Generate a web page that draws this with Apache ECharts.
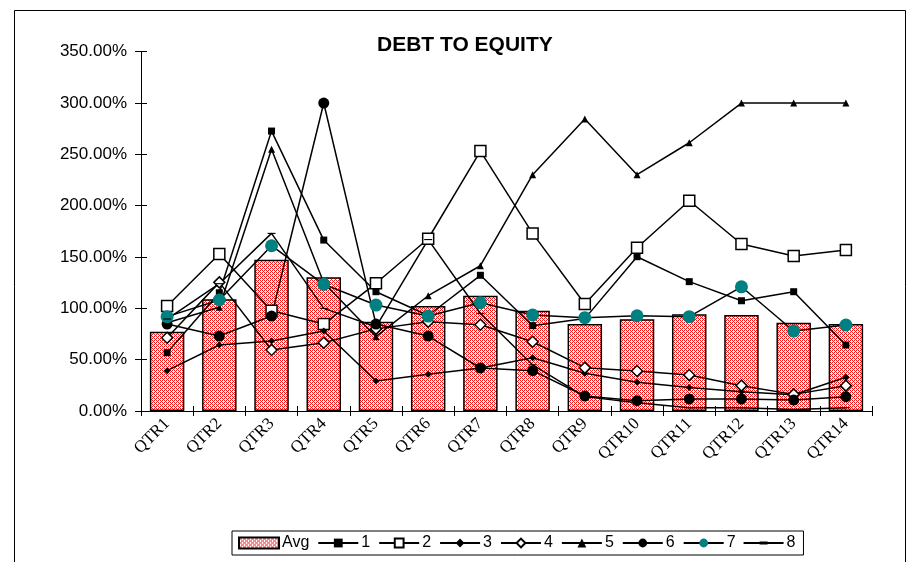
<!DOCTYPE html>
<html>
<head>
<meta charset="utf-8">
<script src="https://cdn.jsdelivr.net/npm/echarts@6/dist/echarts.min.js"></script>
<style>
  html, body { margin: 0; padding: 0; background: #fff; }
  #chart { width: 920px; height: 562px; }
</style>
</head>
<body>
<div id="chart"></div>
<script>
// Quarter labels
const categories = ['QTR1','QTR2','QTR3','QTR4','QTR5','QTR6','QTR7','QTR8','QTR9','QTR10','QTR11','QTR12','QTR13','QTR14'];

// Debt-to-equity ratios, in percent
const avg = [77.2, 108.8, 147.4, 130.2, 87.0, 102.3, 112.3, 97.7, 84.7, 89.3, 94.2, 93.5, 86.0, 84.7];
const s1 = [56.8, 115.2, 272.7, 166.5, 116.2, 93.0, 132.2, 83.1, 90.0, 150.3, 126.0, 107.4, 116.2, 64.3];
const s2 = [102.3, 152.9, 97.7, 84.7, 124.4, 167.8, 253.2, 173.0, 104.2, 159.0, 204.8, 162.7, 151.0, 156.8];
const s3 = [39.3, 64.3, 68.2, 77.9, 29.2, 35.7, 41.9, 51.9, 36.7, 28.0, 23.0, 18.8, 15.9, 32.8];
const s4 = [71.4, 125.3, 59.4, 66.5, 80.0, 87.0, 84.0, 67.5, 42.2, 39.0, 35.0, 24.7, 16.2, 24.7];
const s5 = [86.0, 101.0, 254.9, 125.0, 72.4, 112.3, 141.5, 230.2, 284.4, 230.2, 261.3, 300.0, 300.0, 300.0];
const s6 = [84.7, 73.0, 92.5, 300.0, 84.7, 73.0, 41.9, 39.3, 14.6, 10.0, 11.7, 11.7, 10.7, 14.0];
const s7 = [91.9, 108.1, 161.0, 123.4, 103.2, 92.5, 105.5, 93.5, 90.9, 92.8, 91.9, 121.0, 77.9, 83.8];
const s8 = [89.6, 124.0, 173.0, 100.0, 82.0, 167.0, 95.0, 45.0, 14.0, 8.0, 3.2, 3.2, 1.5, 3.2];

// Y axis range
const yMin = 0, yMax = 350, yStep = 50;

// Red dotted fill for the average bars
function dotPattern() {
  const c = document.createElement('canvas');
  c.width = 4; c.height = 4;
  const g = c.getContext('2d');
  g.fillStyle = '#ffffff';
  g.fillRect(0, 0, 4, 4);
  g.fillStyle = '#f01818';
  const dots = [[0, 0], [2, 0], [1, 1], [0, 2], [2, 2], [3, 3]];
  dots.forEach(d => g.fillRect(d[0], d[1], 1, 1));
  return c;
}

const chart = echarts.init(document.getElementById('chart'), null, { renderer: 'canvas' });

const FONT = '"Liberation Sans", Arial, sans-serif';
const SERIF = '"Liberation Serif", "Times New Roman", serif';

// short horizontal dash marker
const DASH = 'path://M0,0 L8,0 L8,3 L0,3 Z';
// legend icon for the dash series: a line with the dash in the middle
const DASH_LEGEND = 'path://M0,4.6 L40,4.6 L40,6.4 L0,6.4 Z M16,4 L24,4 L24,7 L16,7 Z';

function lineSeries(name, data, symbol, size, fill, extra) {
  return Object.assign({
    name: name,
    type: 'line',
    data: data,
    symbol: symbol,
    symbolSize: size,
    symbolKeepAspect: true,
    showAllSymbol: true,
    lineStyle: { color: '#000', width: 1.5 },
    itemStyle: { color: fill, borderColor: '#000', borderWidth: fill === '#fff' ? 1.5 : 0 },
    emphasis: { disabled: true },
    animation: false
  }, extra || {});
}

const option = {
  backgroundColor: '#fff',
  animation: false,
  title: {
    text: 'DEBT TO EQUITY',
    left: 377,
    top: 35,
    padding: 0,
    textStyle: { fontFamily: FONT, fontSize: 21, fontWeight: 'bold', color: '#000' }
  },
  grid: { left: 141, right: 48, top: 51.7, bottom: 151, containLabel: false },
  legend: {
    left: 232,
    top: 531,
    padding: [4, 8, 4, 6],
    borderColor: '#000',
    borderWidth: 1,
    itemGap: 8,
    itemWidth: 40,
    itemHeight: 11,
    textStyle: { fontFamily: FONT, fontSize: 16, color: '#000', padding: [0, 0, 0, -2] },
    data: [{ name: 'Avg', icon: 'rect' }, '1', '2', '3', '4', '5', '6', '7', { name: '8', icon: DASH_LEGEND }]
  },
  xAxis: [{
    type: 'category',
    data: categories,
    boundaryGap: true,
    axisLine: { lineStyle: { color: '#000', width: 1 } },
    axisTick: { show: true, length: 5, lineStyle: { color: '#000' } },
    axisLabel: { rotate: 45, margin: 10, fontFamily: SERIF, fontSize: 17, color: '#000', interval: 0 },
    splitLine: { show: false }
  }, {
    type: 'category',
    data: categories,
    position: 'bottom',
    boundaryGap: true,
    axisLine: { show: false },
    axisTick: { show: true, inside: true, length: 5, lineStyle: { color: '#000' } },
    axisLabel: { show: false },
    splitLine: { show: false }
  }],
  yAxis: [{
    type: 'value',
    min: yMin, max: yMax, interval: yStep,
    axisLine: { show: true, lineStyle: { color: '#000', width: 1 } },
    axisTick: { show: true, length: 6, lineStyle: { color: '#000' } },
    axisLabel: { margin: 14, fontFamily: FONT, fontSize: 17, color: '#000',
      formatter: v => v.toFixed(2) + '%' },
    splitLine: { show: false }
  }, {
    type: 'value',
    position: 'left',
    min: yMin, max: yMax, interval: yStep,
    axisLine: { show: false },
    axisTick: { show: true, inside: true, length: 6, lineStyle: { color: '#000' } },
    axisLabel: { show: false },
    splitLine: { show: false }
  }],
  graphic: [{
    type: 'rect',
    shape: { x: 14.5, y: 10.5, width: 891, height: 565 },
    style: { fill: 'none', stroke: '#000', lineWidth: 1 },
    silent: true,
    z: -1
  }],
  series: [
    {
      name: 'Avg',
      type: 'bar',
      data: avg,
      barWidth: '66%',
      itemStyle: { color: { image: dotPattern(), repeat: 'repeat' }, borderColor: '#000', borderWidth: 1.5 },
      emphasis: { disabled: true },
      animation: false
    },
    lineSeries('1', s1, 'rect', 7, '#000'),
    lineSeries('2', s2, 'rect', 11, '#fff'),
    lineSeries('3', s3, 'diamond', 7, '#000'),
    lineSeries('4', s4, 'diamond', 11, '#fff'),
    lineSeries('5', s5, 'triangle', 7, '#000'),
    lineSeries('6', s6, 'circle', 11, '#000'),
    lineSeries('7', s7, 'circle', 13, '#008080'),
    lineSeries('8', s8, DASH, [8, 3], '#000')
  ]
};

chart.setOption(option);
</script>
</body>
</html>
